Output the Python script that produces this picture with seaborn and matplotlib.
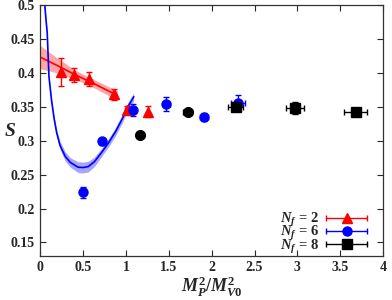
import numpy as np
import pandas as pd
import seaborn as sns
import matplotlib.pyplot as plt
from matplotlib.legend_handler import HandlerBase
from matplotlib.lines import Line2D

#%% data

# Nf = 2 (red triangles)
nf2_x = [0.24, 0.39, 0.57, 0.86, 1.01, 1.26]
nf2_y = [0.402, 0.397, 0.391, 0.369, 0.346, 0.343]
nf2_yerr = [0.021, 0.010, 0.010, 0.008, 0.005, 0.008]
nf2_xerr = [0.0, 0.0, 0.0, 0.0, 0.02, 0.0]

# Nf = 6 (blue circles)
nf6_x = [0.50, 0.715, 1.08, 1.47, 1.91, 2.31]
nf6_y = [0.224, 0.299, 0.346, 0.354, 0.335, 0.356]
nf6_yerr = [0.008, 0.005, 0.009, 0.010, 0.006, 0.011]
nf6_xerr = [0.01, 0.01, 0.03, 0.04, 0.05, 0.08]

# Nf = 8 (black; the two lightest points are drawn as dots)
nf8_x = [1.16, 1.72, 2.28, 2.97, 3.68]
nf8_y = [0.309, 0.342, 0.350, 0.349, 0.343]
nf8_yerr = [0.003, 0.003, 0.005, 0.009, 0.005]
nf8_xerr = [0.02, 0.05, 0.09, 0.105, 0.135]

# linear fit for Nf = 2, with error band
fit2_x = [0.0, 0.2, 0.4, 0.6, 0.9]
fit2_y = [0.4235, 0.411, 0.398, 0.386, 0.367]
fit2_err = [0.017, 0.011, 0.007, 0.006, 0.007]

# fit for Nf = 6, with error band
fit6_x = [0.052, 0.06, 0.08, 0.10, 0.13, 0.16, 0.19, 0.23, 0.29, 0.35, 0.44, 0.50,
          0.56, 0.63, 0.71, 0.79, 0.87, 0.95, 1.02, 1.09]
fit6_y = [0.500, 0.487, 0.459, 0.395, 0.360, 0.333, 0.312, 0.293, 0.277, 0.268, 0.261, 0.2605,
          0.262, 0.269, 0.282, 0.296, 0.312, 0.331, 0.350, 0.365]
fit6_err = [0.003, 0.003, 0.003, 0.003, 0.004, 0.004, 0.005, 0.006, 0.007, 0.007, 0.008, 0.008,
            0.008, 0.007, 0.006, 0.006, 0.006, 0.006, 0.006, 0.006]

legend_labels = [r'$N_f$ = 2', r'$N_f$ = 6', r'$N_f$ = 8']


#%% legend handle: horizontal error bar with caps and a marker in the middle

class HandlerXBar(HandlerBase):
    def create_artists(self, legend, orig_handle, xdescent, ydescent,
                       width, height, fontsize, trans):
        dl = orig_handle[0]
        c = dl.get_color()
        y = height / 2 - ydescent
        x0, x1 = -xdescent, width - xdescent
        line = Line2D([x0, x1], [y, y], color=c, lw=1.0)
        caps = Line2D([x0, x1], [y, y], ls='none', marker='|', ms=5, mew=1.0, color=c)
        mk = Line2D([(x0 + x1) / 2], [y], ls='none', marker=dl.get_marker(),
                    ms=dl.get_markersize(), color=c)
        for a in (line, caps, mk):
            a.set_transform(trans)
        return [line, caps, mk]


#%% plotting

sns.set_theme(style='ticks')
plt.rcParams['font.family'] = ['Liberation Serif', 'DejaVu Serif']
plt.rcParams['font.weight'] = 'bold'
plt.rcParams['mathtext.fontset'] = 'custom'
plt.rcParams['mathtext.rm'] = 'Liberation Serif:bold'
plt.rcParams['mathtext.it'] = 'Liberation Serif:italic:bold'
plt.rcParams['mathtext.bf'] = 'Liberation Serif:bold'

fig = plt.figure(figsize=(3.92, 3.00), dpi=100)
ax = fig.add_axes([0.103, 0.147, 0.874, 0.835])

red = '#ff0000'
blue = '#0000ff'

# fit bands
f2 = pd.DataFrame({'x': fit2_x, 'y': fit2_y, 'e': fit2_err})
f6 = pd.DataFrame({'x': fit6_x, 'y': fit6_y, 'e': fit6_err})
ax.fill_between(f2['x'], f2['y'] - f2['e'], f2['y'] + f2['e'], color=red, alpha=0.35, lw=0)
ax.fill_between(f6['x'], f6['y'] - f6['e'], f6['y'] + f6['e'], color=blue, alpha=0.35, lw=0)
sns.lineplot(data=f2, x='x', y='y', color=red, lw=1.2, ax=ax)
sns.lineplot(data=f6, x='x', y='y', color=blue, lw=1.2, ax=ax)

# data points
kw = dict(ls='none', capsize=2, elinewidth=1.0, capthick=1.0)
h2 = ax.errorbar(nf2_x, nf2_y, yerr=nf2_yerr, xerr=nf2_xerr, fmt='^', color=red, ms=7, **kw)
h6 = ax.errorbar(nf6_x, nf6_y, yerr=nf6_yerr, xerr=nf6_xerr, fmt='o', color=blue, ms=6.5, **kw)
ax.errorbar(nf8_x[:2], nf8_y[:2], yerr=nf8_yerr[:2], xerr=nf8_xerr[:2], fmt='o',
            color='black', ms=7, **kw)
h8 = ax.errorbar(nf8_x[2:], nf8_y[2:], yerr=nf8_yerr[2:], xerr=nf8_xerr[2:], fmt='s',
                 color='black', ms=6.5, **kw)

ax.set_xlim(0, 4)
ax.set_ylim(0.13, 0.5)
ax.set_xticks(np.arange(0, 4.01, 0.5))
ax.set_xticklabels(['0', '0.5', '1', '1.5', '2', '2.5', '3', '3.5', '4'])
ax.set_yticks(np.arange(0.15, 0.501, 0.05))
ax.set_yticklabels(['0.15', '0.2', '0.25', '0.3', '0.35', '0.4', '0.45', '0.5'])
ax.tick_params(direction='in', top=True, right=True, labelsize=10, length=4, width=0.8, pad=4)
for lab in ax.get_xticklabels() + ax.get_yticklabels():
    lab.set_fontweight('bold')
for s in ax.spines.values():
    s.set_linewidth(0.9)
    s.set_color('#333333')

ax.set_xlabel('')
ax.set_ylabel('')
fig.text(0.54, 0.045, r'$M_P^2/M_{V0}^2$', ha='center', va='center', fontsize=13)
fig.text(0.025, 0.56, r'$S$', ha='center', va='center', fontsize=14)

# legend: labels left of the handles
hm = {h: HandlerXBar() for h in (h2, h6, h8)}
leg = ax.legend([h2, h6, h8], legend_labels, handler_map=hm,
                loc='lower right', markerfirst=False, frameon=False, fontsize=10.5,
                handlelength=2.8, handletextpad=0.5, labelspacing=-0.32,
                borderaxespad=0.0, bbox_to_anchor=(0.971, -0.022))

fig.savefig('out.png', dpi=100)
